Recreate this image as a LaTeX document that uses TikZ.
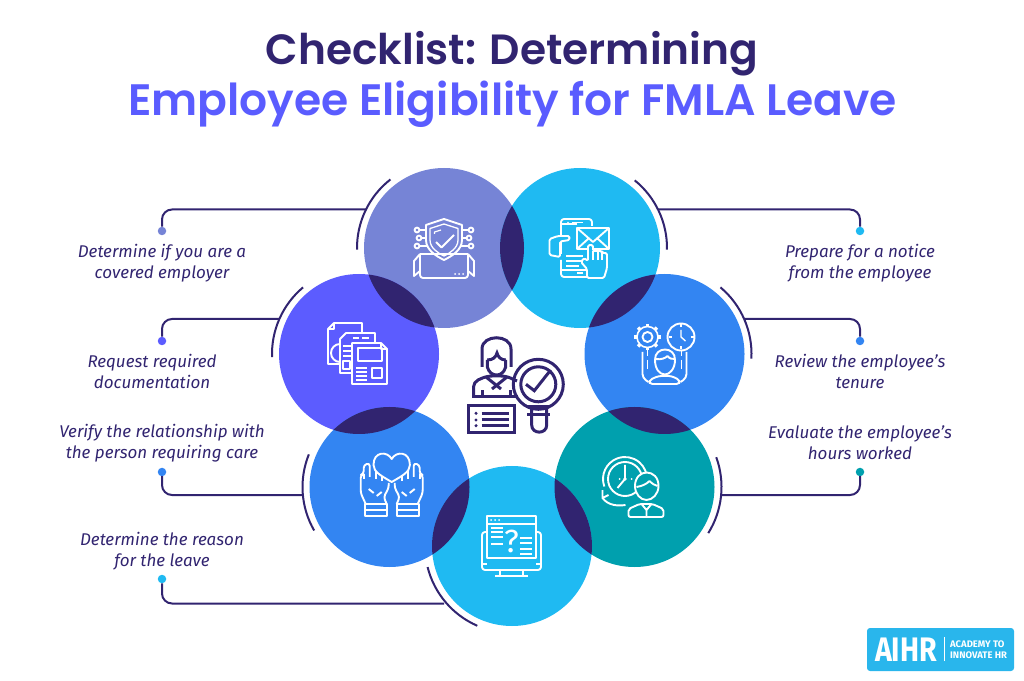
\documentclass[tikz,border=0pt]{standalone}
\usepackage{fontspec}
\setmainfont{Fira Sans}
\newfontfamily\titlefont{Poppins SemiBold}
\usepackage{xcolor}
\usetikzlibrary{calc,positioning}
\definecolor{inkdark}{HTML}{312470}
\definecolor{titleblue}{HTML}{5A5CFF}
\definecolor{shieldcol}{HTML}{7684D6}
\definecolor{docscol}{HTML}{5C5CFF}
\definecolor{skycol}{HTML}{1FBAF2}
\definecolor{bluecol}{HTML}{3385F2}
\definecolor{tealcol}{HTML}{00A0AE}
\definecolor{logocol}{HTML}{29B6EC}
\tikzset{
  bubble/.style={circle,inner sep=0pt,outer sep=0pt,minimum size=160pt,fill=#1},
  tip/.style={circle,inner sep=0pt,outer sep=0pt,minimum size=8.5pt,fill=#1},
  lead/.style={draw=inkdark,line width=2pt,rounded corners=10pt},
  ring/.style={draw=inkdark,line width=2pt},
  caption/.style={align=center,text=inkdark,font=\fontsize{17}{21}\selectfont\itshape},
  headline/.style={font=\titlefont\fontsize{#1}{50}\selectfont},
  icon/.style={white,line width=1.9pt,line join=round},
  darkicon/.style={inkdark,line width=3pt,line join=miter}
}
\begin{document}
\begin{tikzpicture}[x=1pt,y=1pt]
\useasboundingbox (0,0) rectangle (1024,680);
\node (titleone) at (512,626) [text=inkdark,headline=42.3] {Checklist: Determining};
\node (titletwo) at (512.5,576) [text=titleblue,headline=44] {Employee Eligibility for FMLA Leave};

\node (shield) at (444,432) [bubble=shieldcol] {};
\node (mail) at (580,432) [bubble=skycol] {};
\node (docs) at (359,326) [bubble=docscol] {};
\node (gears) at (664.5,326) [bubble=bluecol] {};
\node (hands) at (389.5,193) [bubble=bluecol] {};
\node (clock) at (634.5,193) [bubble=tealcol] {};
\node (screen) at (512,134) [bubble=skycol] {};

\foreach \a/\b in {shield/mail,shield/docs,docs/hands,hands/screen,screen/clock,clock/gears,gears/mail} {
  \begin{scope}
    \clip (\a.center) circle (80);
    \fill[inkdark] (\b.center) circle (80);
  \end{scope}
}

\foreach \n/\s/\e in {shield/128/181,docs/130/182,mail/51/-1,gears/50/-3,hands/158/210,clock/20/-32,screen/194/246.5} {
  \draw[ring] ($(\n.center)+(\s:87)$) arc[start angle=\s,end angle=\e,radius=87pt];
}

\node (shielddot) at (162,449) [tip=shieldcol] {};
\node (docsdot) at (162,339) [tip=docscol] {};
\node (handsdot) at (162,208) [tip=bluecol] {};
\node (screendot) at (162,101) [tip=skycol] {};
\node (maildot) at (860,449) [tip=skycol] {};
\node (gearsdot) at (860,339) [tip=bluecol] {};
\node (clockdot) at (860,208) [tip=tealcol] {};

\coordinate (shieldend) at (366,470.5);
\coordinate (docsend) at (279.5,361);
\coordinate (handsend) at (302.5,185);
\coordinate (screenend) at (444,76.5);
\coordinate (mailend) at (658,470.5);
\coordinate (gearsend) at (744,361);
\coordinate (clockend) at (721,185);

\foreach \n in {shield,docs,hands,screen,mail,gears,clock} {
  \draw[lead] (\n dot) |- (\n end);
}

\node (shieldtext) at (162,416.5) [caption] {Determine if you are a\\covered employer};
\node (docstext) at (152,309) [caption] {Request required\\documentation};
\node (handstext) at (162,236.5) [caption] {Verify the relationship with\\the person requiring care};
\node (screentext) at (162,129) [caption] {Determine the reason\\for the leave};
\node (mailtext) at (860,416.5) [caption] {Prepare for a notice\\from the employee};
\node (gearstext) at (860,309) [caption] {Review the employee’s\\tenure};
\node (clocktext) at (860,237) [caption] {Evaluate the employee’s\\hours worked};

\begin{scope}[shift={(shield.center)},icon]
  \draw (0,29) -- (-18,23) -- (-18,8) .. controls (-18,-2) and (-8,-8) .. (0,-12) .. controls (8,-8) and (18,-2) .. (18,8) -- (18,23) -- cycle;
  \draw[line width=1.3pt] (0,24) -- (-14,19.5) -- (-14,8) .. controls (-14,0) and (-6,-5) .. (0,-8) .. controls (6,-5) and (14,0) .. (14,8) -- (14,19.5) -- cycle;
  \draw (-8,6) -- (-2.5,0.5) -- (10,13);
  \draw[line width=1.2pt] (-9.5,14) -- (-9.5,16) -- (-3,18);
  \foreach \s in {-1,1} {
    \draw (\s*27,18) circle (2.4) (\s*24.6,18) -- (\s*18,18);
    \draw (\s*25,10) circle (2.4) (\s*22.6,10) -- (\s*18,10);
    \draw (\s*27,2) circle (2.4) (\s*24.6,2) -- (\s*16,2);
    \draw (\s*24,-6) -- (\s*30,-13) -- (\s*30,-28) -- (\s*24,-23);
  }
  \draw (-24,-6) -- (24,-6);
  \draw[rounded corners=3pt] (-24,-6) -- (-24,-30) -- (24,-30) -- (24,-6);
  \foreach \x in {11,15,19} \fill (\x,-26) circle (1);
\end{scope}

\begin{scope}[shift={(docs.center)},icon]
  \draw[fill=docscol] (-25,31) -- (3,31) -- (3,-10) -- (-31,-10) -- (-31,25) -- cycle;
  \draw (-31,25) -- (-25,25) -- (-25,31);
  \draw (-19,-8) arc[start angle=270,end angle=90,radius=9pt];
  \draw[fill=docscol] (-13,21) -- (16,21) -- (16,-19) -- (-19,-19) -- (-19,15) -- cycle;
  \draw[line width=1.4pt] (-6,16) -- (0,16) (3,16) -- (10,16) (-16,8) -- (-8,8) (-16,3) -- (-8,3) (-16,-2) -- (-8,-2) (-16,-7) rectangle (-9,-15);
  \draw[fill=docscol] (-7,11) -- (22,11) -- (28,5) -- (28,-30) -- (-7,-30) -- cycle;
  \draw (22,11) -- (22,5) -- (28,5);
  \draw (-1,6) rectangle (23,-7);
  \draw (13,-14) rectangle (23,-24);
  \foreach \y in {-14,-18,-22,-26} \draw[line width=1.4pt] (-3,\y) -- (8,\y);
\end{scope}

\begin{scope}[shift={(mail.center)},icon]
  \draw[rounded corners=3pt] (-19,-6) -- (-19,29) -- (12,29) -- (12,22);
  \draw[rounded corners=3pt] (-19,-12) -- (-19,-29) -- (7,-29);
  \draw (-19,24) -- (-3,24) (-19,-22) -- (6,-22);
  \draw (-8,25.5) -- (3,25.5) (-3,-25) -- (3,-25);
  \fill (-12,25.5) circle (.9);
  \draw[line width=1.4pt] (-14,-8) -- (3,-8) (-14,-13) -- (3,-13) (-14,-18) -- (-1,-18);
  \draw[fill=skycol] (-3,20) rectangle (29,-1);
  \draw (-3,20) -- (13,6) -- (29,20) (-3,-1) -- (8,9) (29,-1) -- (18,9);
  \draw[fill=skycol,rounded corners=1.5pt] (-10.5,12) -- (-22,12) -- (-30.5,9) -- (-30.5,-7) -- (-20,-9) -- (-20,6.5) -- (-10.5,8) -- cycle;
  \draw[fill=skycol,rounded corners=1.5pt] (7,-30) -- (7,-21) -- (1,-14) -- (4,-10) -- (8,-13) -- (8,3) -- (13,3) -- (13,-3) -- (18,-3) -- (18,-3) -- (22,-3) -- (22,-5) -- (27,-5) -- (27,-20) -- (24,-30) -- cycle;
  \draw[line width=1.3pt] (13,-3) -- (13,-12) (18,-3) -- (18,-12) (22,-3) -- (22,-12);
\end{scope}

\begin{scope}[shift={(gears.center)},icon]
  \draw (-17,17) circle (5);
  \draw[line width=1.6pt] (-17,17) circle (10.5);
  \foreach \a in {0,45,...,315} \draw[line width=3.4pt] (-17,17) ++(\a:10.5) -- ++(\a:2.8);
  \draw (16.5,17) circle (13.5);
  \draw[line width=1.4pt] (16.5,24) -- (16.5,17) -- (21,13);
  \foreach \a in {0,90,180,270} \draw[line width=1.3pt] (16.5,17) ++(\a:9.5) -- ++(\a:3);
  \draw (-9.5,-6) .. controls (-10,8) and (11,8) .. (10.5,-6) .. controls (10.5,-15) and (5,-20.5) .. (0.5,-20.5) .. controls (-5,-20.5) and (-9.5,-15) .. (-9.5,-6) -- cycle;
  \draw (-9.5,-5) .. controls (-3,-6) and (1,-4) .. (3,-2) .. controls (5,-5) and (8,-5) .. (10.5,-5);
  \draw[rounded corners=3pt] (-15,-30) -- (-15,-26) -- (-6,-22) -- (7,-22) -- (15,-26) -- (15,-30) -- cycle;
  \foreach \s in {-1,1} {
    \draw[rounded corners=4pt] (\s*22,2) -- (\s*22,-24) -- (\s*16,-28);
    \draw (\s*17,4) -- (\s*17,-2) (\s*17,-6) -- (\s*17,-15);
  }
\end{scope}

\begin{scope}[shift={(hands.center)},icon]
  \foreach \s in {-1,1} {
    \begin{scope}[shift={(2.2,0)},xscale=\s]
      \draw[rounded corners=3pt] (-26,-17) -- (-31,-6) -- (-31,12) -- (-28,13) -- (-28,22) -- (-22,24) -- (-22,10);
      \draw (-28,13) -- (-28,8) (-16,20) -- (-16,8) (-10,13) -- (-10,6);
      \draw[rounded corners=3pt] (-5,-17) -- (-8,-10) -- (-3,-1) -- (-3,4);
      \draw (-23,-2) -- (-18,-6) (-15,-9) -- (-10,-5);
      \draw (-27,-17) rectangle (-5,-29);
      \draw (-27,-23) -- (-5,-23);
    \end{scope}
  }
  \draw[fill=bluecol] (2.2,5) .. controls (-8,11) and (-16,15) .. (-16,22) .. controls (-16,36) and (-2,36) .. (2.2,28) .. controls (6.4,36) and (20.4,36) .. (20.4,22) .. controls (20.4,15) and (12.4,11) .. (2.2,5) -- cycle;
\end{scope}

\begin{scope}[shift={(screen.center)},icon]
  \draw[rounded corners=3pt] (-25,14) -- (-30,14) -- (-30,-24) -- (29,-24) -- (29,14) -- (24,14);
  \draw (-30,-18) -- (-25,-18) (24,-18) -- (29,-18);
  \draw (-25,30) rectangle (24,-12);
  \draw (-25,22) -- (24,22);
  \foreach \x in {-21,-17,-13} \fill (\x,26) circle (1);
  \foreach \y in {17.7,13.7,9.3,2} \draw (-21,\y) -- (-9,\y);
  \foreach \y in {7.7,2.7,-3,-8} \draw (8,\y) -- (20,\y);
  \node (qmark) at (-0.5,4.5) [inner sep=0pt,white,font=\fontsize{32}{32}\selectfont] {?};
  \draw (-12,-24) -- (-12,-30) (11,-24) -- (11,-30) (-17,-30) -- (16,-30);
\end{scope}

\begin{scope}[shift={(clock.center)},icon]
  \draw (-9.5,8) ++(200:22) arc[start angle=200,end angle=-5,radius=22pt];
  \draw (-9.5,8) circle (17);
  \draw (-9.5,8) -- (-9.5,22) (-9.5,8) -- (-17,-1);
  \fill (-9.5,8) circle (1.8) (-15,8) circle (1) (-3,8) circle (1);
  \draw (-32,-3) -- (-32,-11) -- (-26,-8);
  \draw (-32,-11) .. controls (-26,-19) and (-16,-19) .. (-9,-18);
  \draw[fill=tealcol] (0.5,1) .. controls (0.5,19) and (24,19) .. (24,1) .. controls (24,-7) and (18,-13) .. (12,-13) .. controls (6,-13) and (0.5,-7) .. (0.5,1) -- cycle;
  \draw (2,0) .. controls (8,1) and (12,3) .. (15,6) .. controls (18,3) and (20,2) .. (23,1);
  \draw[fill=tealcol,rounded corners=2pt] (-6,-30) -- (-6,-22) -- (5,-17) -- (18,-17) -- (29,-22) -- (29,-30) -- cycle;
  \draw (7,-17) -- (12,-23) -- (17,-17) (12,-23) -- (12,-30);
\end{scope}

\begin{scope}[darkicon]
  \draw (482,313) -- (482,331) .. controls (482,346) and (511,346) .. (511,331) -- (511,313);
  \draw (487.3,320) -- (487.3,313) .. controls (489,307) and (493,305) .. (496.7,305) .. controls (500,305) and (504,307) .. (505.7,313) -- (505.7,320);
  \draw (487.3,320) .. controls (493,320) and (496,323) .. (497,327) .. controls (498,323) and (501,320) .. (505.7,320);
  \draw[rounded corners=5pt] (473.5,283.3) -- (473.5,298) -- (487,304) -- (506,304) -- (517,299);
  \draw (472,283.3) -- (518,283.3);
  \draw (486,303) -- (501,291) (507,303) -- (492,291);
  \draw (482.5,283.3) -- (482.5,290) (510,283.3) -- (510,290);
  \draw (468.3,274) rectangle (514.3,247.3);
  \foreach \y in {266.7,260,254.3} {
    \fill (476,\y) circle (1.7);
    \draw (481.7,\y) -- (509.3,\y);
  }
  \draw (538.3,295.7) circle (25);
  \draw (538.3,295.7) circle (17.5);
  \draw (526,295.7) -- (534.3,289.3) -- (550.7,310);
  \draw (531.7,271) -- (531.7,255) .. controls (531.7,245.5) and (546.7,245.5) .. (546.7,255) -- (546.7,271);
  \draw (527.3,273) -- (550,273) (527.3,265) -- (550,265);
\end{scope}

\draw[fill=logocol,draw=none,rounded corners=3pt] (867,9) rectangle (1014,52);
\node (logoword) at (906,30.5) [white,inner sep=0pt,xscale=.84,transform shape,font=\fontsize{34}{34}\selectfont\bfseries] {AIHR};
\draw[white,line width=1pt] (944.5,19) -- (944.5,43);
\node (logotext) at (950,30.5) [anchor=west,white,inner sep=0pt,align=left,font=\fontsize{9.5}{10.5}\selectfont\bfseries] {ACADEMY TO\\INNOVATE HR};
\end{tikzpicture}
\end{document}
